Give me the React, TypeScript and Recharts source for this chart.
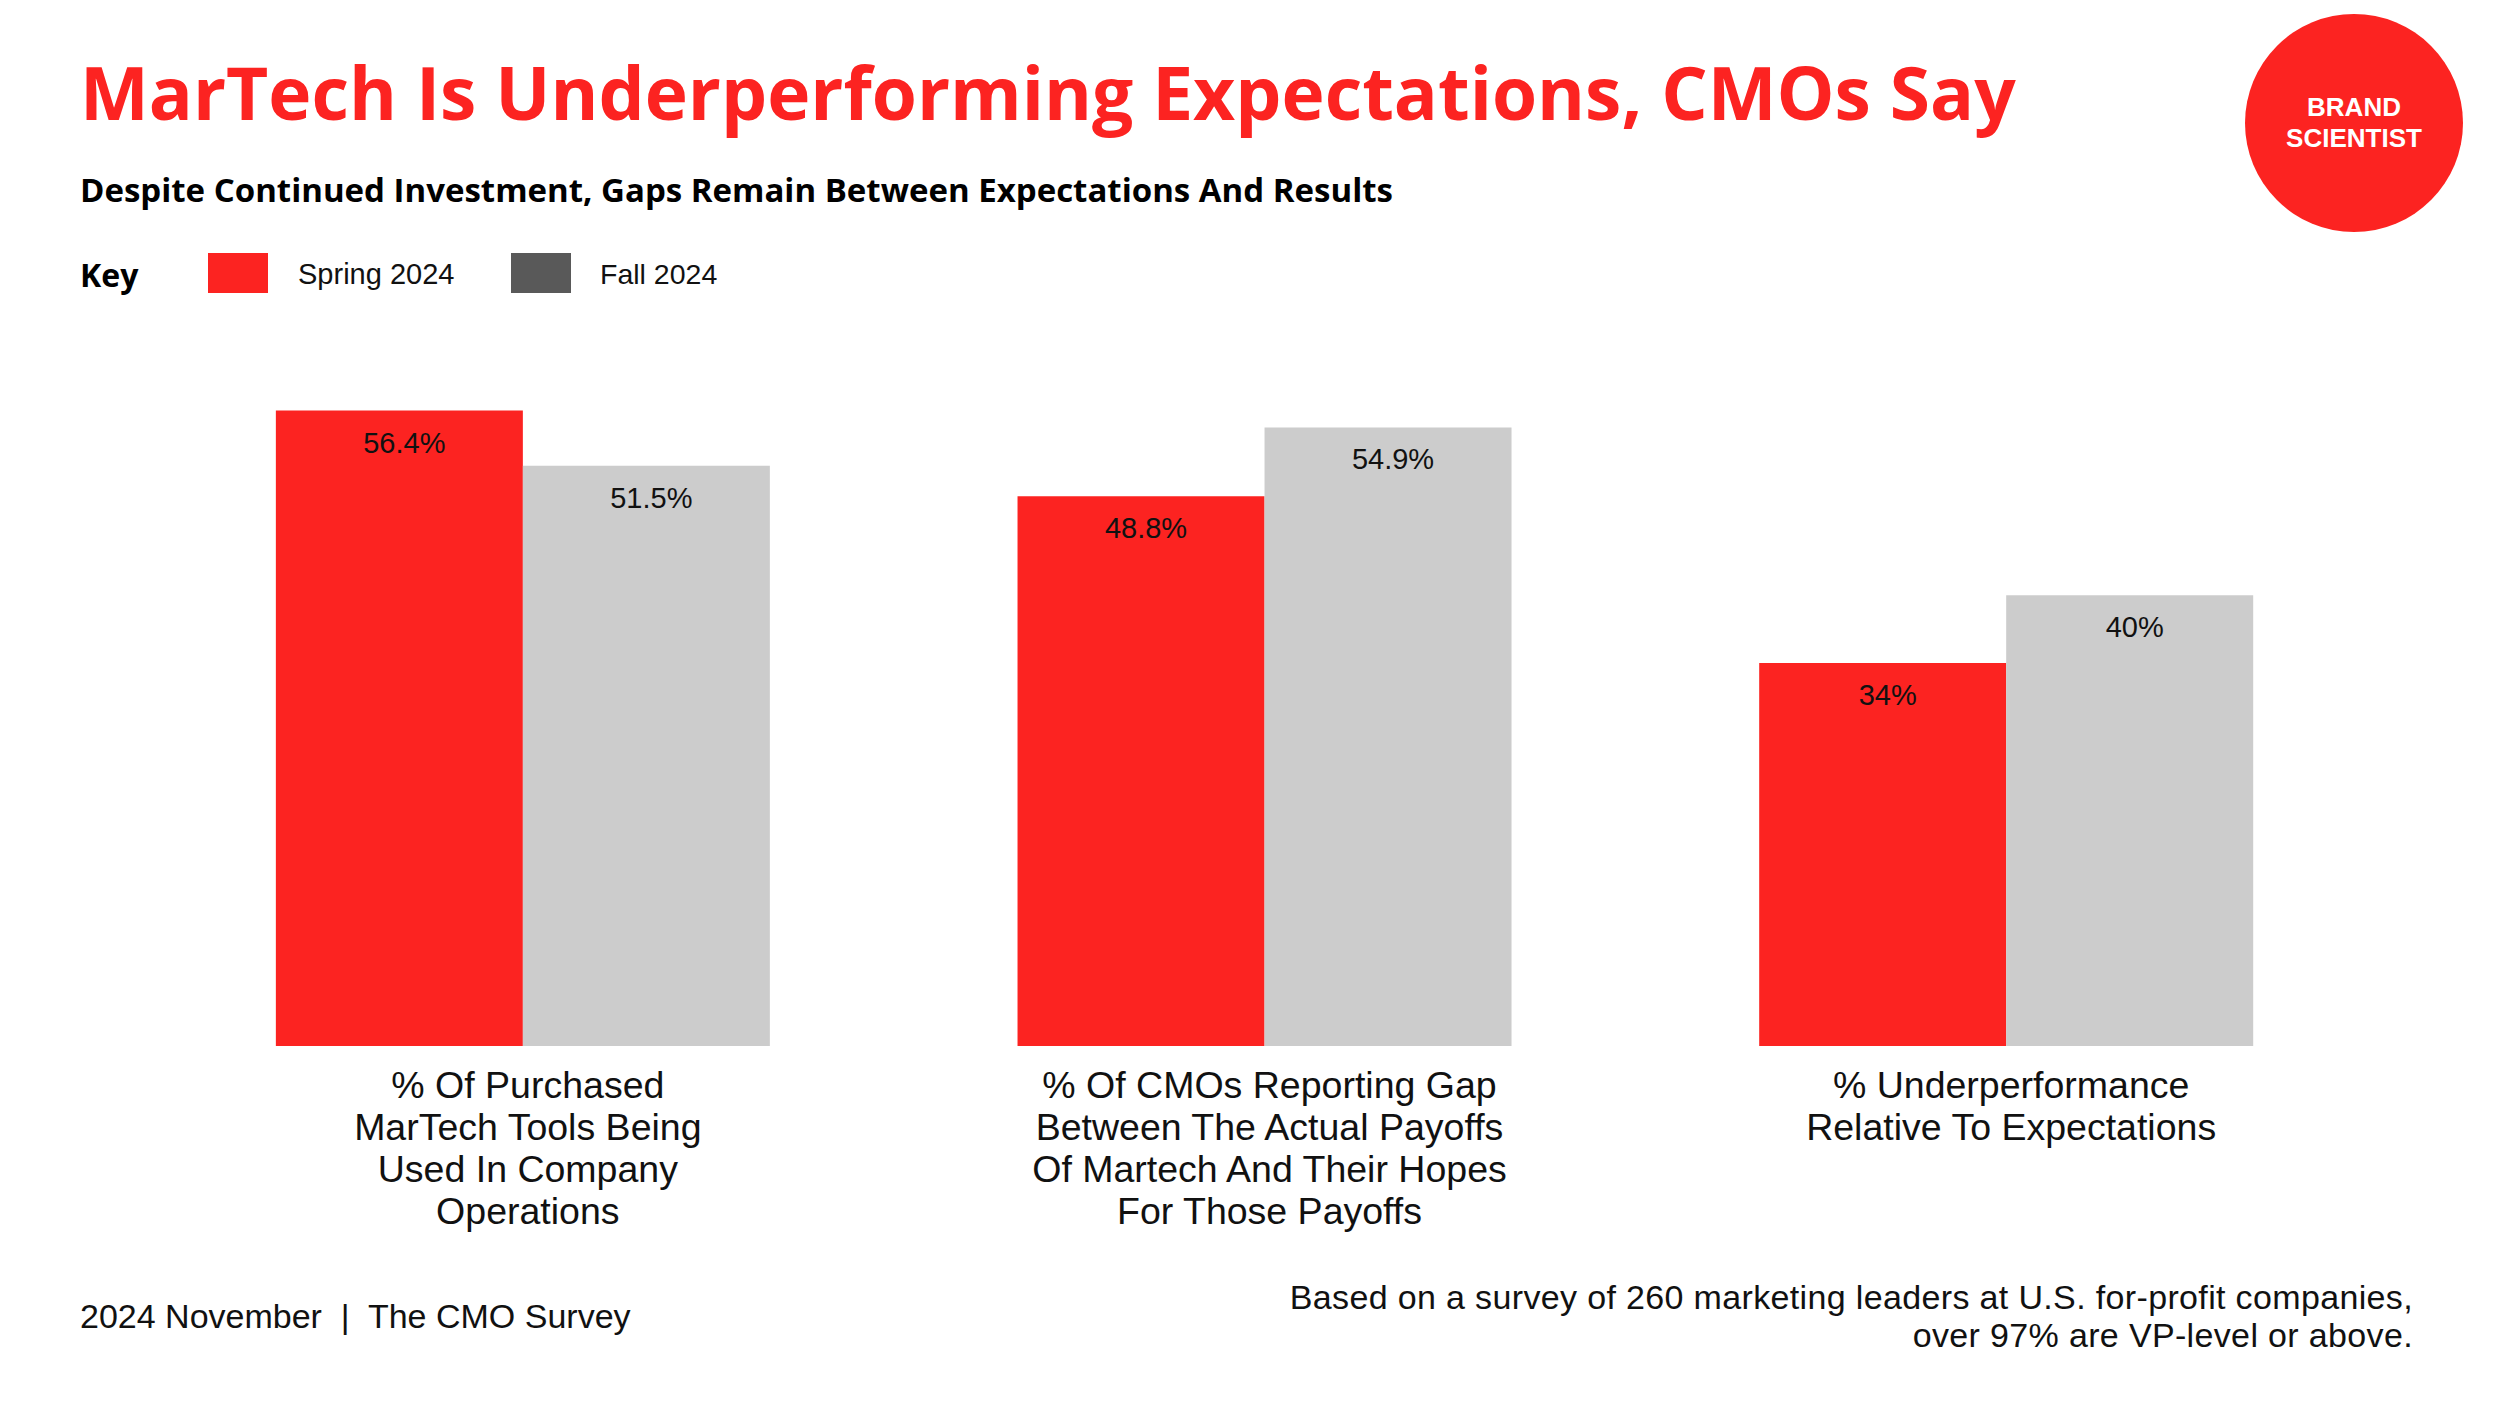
import React from "react";
import { BarChart, Bar, XAxis, YAxis, LabelList } from "recharts";

const categories = ["purchased", "gap", "underperformance"];
const categoryLines = [
  ["% Of Purchased", "MarTech Tools Being", "Used In Company", "Operations"],
  ["% Of CMOs Reporting Gap", "Between The Actual Payoffs", "Of Martech And Their Hopes", "For Those Payoffs"],
  ["% Underperformance", "Relative To Expectations"],
];
const spring2024 = [56.4, 48.8, 34];
const fall2024 = [51.5, 54.9, 40];
const seriesNames = ["Spring 2024", "Fall 2024"];

const RED = "#FC2321";
const GRAY_BAR = "#CCCCCC";
const GRAY_KEY = "#595959";
const HEAD = "'Open Sans', 'DejaVu Sans', sans-serif";
const BODY = "'Liberation Sans', Arial, sans-serif";

const data = categories.map((c, i) => ({
  category: c,
  spring: spring2024[i],
  fall: fall2024[i],
}));

const CategoryTick = (props: any) => {
  const { x, y, index } = props;
  const lines = categoryLines[index] || [];
  const cx = x + 5;
  return (
    <text
      x={cx}
      y={y + 39}
      textAnchor="middle"
      dominantBaseline="central"
      fontFamily={BODY}
      fontSize={37.5}
      fill="#111"
    >
      {lines.map((ln, i) => (
        <tspan key={i} x={cx} dy={i === 0 ? 0 : 42}>
          {ln}
        </tspan>
      ))}
    </text>
  );
};

const ValueLabel = (props: any) => {
  const { x, y, width, value } = props;
  return (
    <text
      x={x + width / 2 + 5}
      y={y + 32}
      textAnchor="middle"
      dominantBaseline="central"
      fontFamily={BODY}
      fontSize={29}
      fill="#111"
    >
      {`${value}%`}
    </text>
  );
};

export default function App() {
  return (
    <div style={{ position: "relative", width: 2500, height: 1406, background: "#fff", overflow: "hidden", fontFamily: HEAD }}>
      <style>{`body{margin:0}`}</style>
      <div style={{ position: "absolute", left: 80, top: 44, fontSize: 73, fontWeight: 700, color: RED, whiteSpace: "nowrap", lineHeight: "96px" }}>
        MarTech Is Underperforming Expectations, CMOs Say
      </div>
      <div style={{ position: "absolute", left: 80, top: 170, fontSize: 33, fontWeight: 700, color: "#000", whiteSpace: "nowrap", lineHeight: "40px" }}>
        Despite Continued Investment, Gaps Remain Between Expectations And Results
      </div>
      <div style={{ position: "absolute", left: 80, top: 255, fontSize: 32, fontWeight: 700, color: "#000", lineHeight: "40px" }}>Key</div>
      <div style={{ position: "absolute", left: 208, top: 253, width: 60, height: 40, background: RED }} />
      <div style={{ position: "absolute", left: 298, top: 256, fontFamily: BODY, fontSize: 29, color: "#111", lineHeight: "36px", whiteSpace: "nowrap" }}>{seriesNames[0]}</div>
      <div style={{ position: "absolute", left: 511, top: 253, width: 60, height: 40, background: GRAY_KEY }} />
      <div style={{ position: "absolute", left: 600, top: 256, fontFamily: BODY, fontSize: 28.5, color: "#111", lineHeight: "36px", whiteSpace: "nowrap" }}>{seriesNames[1]}</div>

      <div style={{ position: "absolute", left: 2245, top: 14, width: 218, height: 218, borderRadius: "50%", background: RED, display: "flex", alignItems: "center", justifyContent: "center", flexDirection: "column", color: "#fff", fontFamily: BODY, fontWeight: 700, fontSize: 26, lineHeight: "31px", textAlign: "center" }}>
        <div>BRAND</div>
        <div>SCIENTIST</div>
      </div>

      <div style={{ position: "absolute", left: 0, top: 0 }}>
        <BarChart
          width={2500}
          height={1406}
          data={data}
          margin={{ top: 370, right: 123, bottom: 160, left: 152 }}
          barCategoryGap="16.7%"
          barGap={0}
        >
          <YAxis hide width={0} domain={[0, 60]} />
          <XAxis dataKey="category" height={200} axisLine={false} tickLine={false} tickSize={0} tickMargin={0} tick={<CategoryTick />} interval={0} />
          <Bar dataKey="spring" name={seriesNames[0]} fill={RED} isAnimationActive={false}>
            <LabelList dataKey="spring" content={<ValueLabel />} />
          </Bar>
          <Bar dataKey="fall" name={seriesNames[1]} fill={GRAY_BAR} isAnimationActive={false}>
            <LabelList dataKey="fall" content={<ValueLabel />} />
          </Bar>
        </BarChart>
      </div>

      <div style={{ position: "absolute", left: 80, top: 1296, fontFamily: BODY, fontSize: 34, color: "#111", whiteSpace: "pre", lineHeight: "40px" }}>
        {"2024 November  |  The CMO Survey"}
      </div>
      <div style={{ position: "absolute", right: 87, top: 1278, fontFamily: BODY, fontSize: 34, letterSpacing: 0.35, color: "#111", whiteSpace: "nowrap", lineHeight: "38px", textAlign: "right" }}>
        <div>Based on a survey of 260 marketing leaders at U.S. for-profit companies,</div>
        <div>over 97% are VP-level or above.</div>
      </div>
    </div>
  );
}
